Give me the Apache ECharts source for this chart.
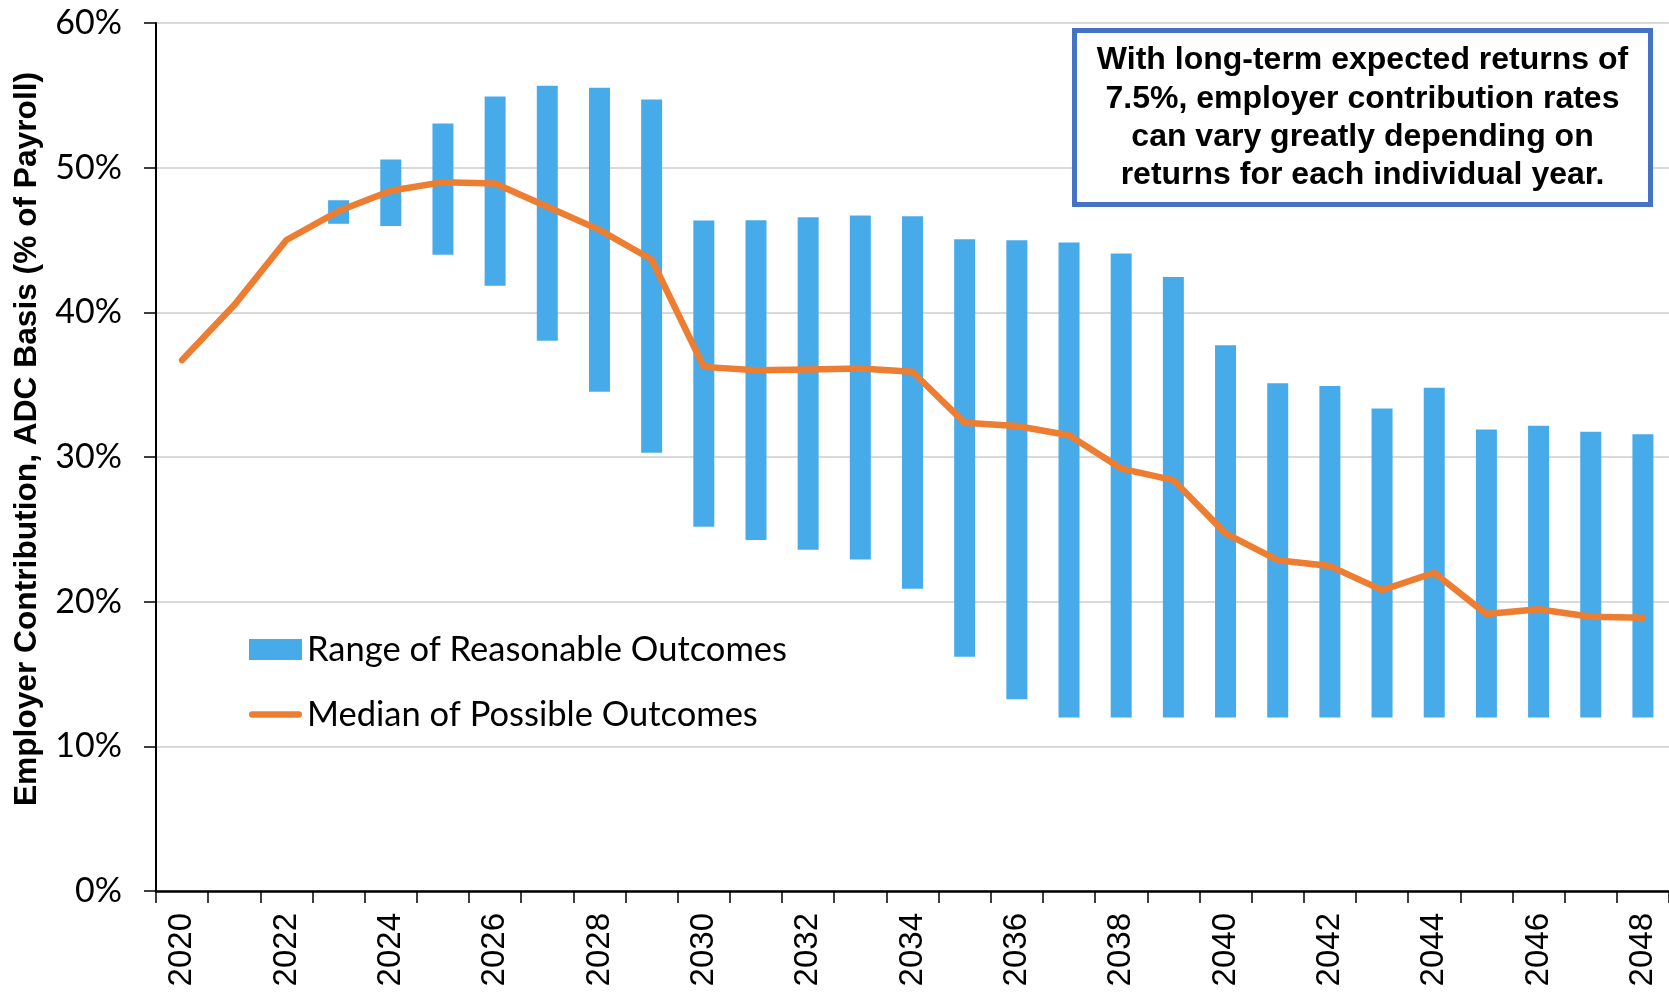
<!DOCTYPE html>
<html>
<head>
<meta charset="utf-8">
<script src="https://cdn.jsdelivr.net/npm/echarts@6/dist/echarts.min.js"></script>
<style>
  html, body { margin: 0; padding: 0; background: #fff; }
  #chart { width: 1669px; height: 992px; }
</style>
</head>
<body>
<div id="chart"></div>
<script>
// Projection years
const years = ['2020','2021','2022','2023','2024','2025','2026','2027','2028','2029',
  '2030','2031','2032','2033','2034','2035','2036','2037','2038','2039',
  '2040','2041','2042','2043','2044','2045','2046','2047','2048'];

// Upper and lower bounds of the range of reasonable outcomes (% of payroll)
const rangeHigh = [null, null, null, 47.75, 50.56, 53.05, 54.92, 55.66, 55.52, 54.71,
  46.35, 46.37, 46.58, 46.70, 46.65, 45.06, 44.99, 44.83, 44.07, 42.45,
  37.73, 35.09, 34.90, 33.36, 34.78, 31.90, 32.16, 31.74, 31.58];
const rangeLow = [null, null, null, 46.12, 45.96, 43.98, 41.83, 38.03, 34.51, 30.29,
  25.18, 24.26, 23.59, 22.92, 20.89, 16.19, 13.25, 12.0, 12.0, 12.0,
  12.0, 12.0, 12.0, 12.0, 12.0, 12.0, 12.0, 12.0, 12.0];

// Median of possible outcomes (% of payroll)
const median = [36.7, 40.5, 45.0, 47.0, 48.4, 49.0, 48.9, 47.3, 45.7, 43.65,
  36.23, 36.0, 36.05, 36.12, 35.89, 32.36, 32.14, 31.5, 29.2, 28.4,
  24.72, 22.87, 22.46, 20.8, 22.0, 19.14, 19.47, 18.96, 18.89];

const yTicks = [0, 10, 20, 30, 40, 50, 60];

const noteLines = [
  'With long-term expected returns of',
  '7.5%, employer contribution rates',
  'can vary greatly depending on',
  'returns for each individual year.'
];

// Floating bars: transparent base up to the low bound, visible span up to the high bound
const rangeSpan = rangeHigh.map((h, i) => (h == null || rangeLow[i] == null) ? null : +(h - rangeLow[i]).toFixed(2));

// Legend key for the median: a thick rounded stroke centred in the key box
const lineKey = 'path://M0,0 Z M58,21 Z M3.5,7 L54.5,7 A3.5,3.5 0 0 1 54.5,14 L3.5,14 A3.5,3.5 0 0 1 3.5,7 Z';

const chart = echarts.init(document.getElementById('chart'), null, { renderer: 'canvas' });

const option = {
  backgroundColor: '#ffffff',
  animation: false,
  grid: { left: 156, top: 23, right: 0, bottom: 101, containLabel: false, outerBoundsMode: 'none' },
  legend: {
    orient: 'vertical',
    left: 244,
    top: 627,
    itemWidth: 53,
    itemHeight: 21,
    itemGap: 30,
    textStyle: { fontFamily: 'Lato', fontSize: 34.5, color: '#000' },
    data: [
      { name: 'Range of Reasonable Outcomes', icon: 'rect' },
      { name: 'Median of Possible Outcomes', icon: lineKey }
    ]
  },
  xAxis: {
    type: 'category',
    data: years,
    boundaryGap: true,
    axisLine: { lineStyle: { color: '#000', width: 2.5 } },
    axisTick: { show: true, inside: false, length: 12, interval: 0, alignWithLabel: false, lineStyle: { color: '#000', width: 1.5 } },
    axisLabel: {
      interval: 1,
      rotate: 90,
      margin: 22,
      fontFamily: 'Liberation Sans',
      fontSize: 33,
      color: '#000'
    }
  },
  yAxis: {
    type: 'value',
    min: yTicks[0],
    max: yTicks[yTicks.length - 1],
    interval: 10,
    name: 'Employer Contribution, ADC Basis (% of Payroll)',
    nameLocation: 'middle',
    nameGap: 113,
    nameTextStyle: {
      fontFamily: 'Liberation Sans',
      fontWeight: 'bold',
      fontSize: 31.7,
      color: '#000',
      padding: [0, 0, 0, 36]
    },
    axisLine: { show: true, lineStyle: { color: '#000', width: 2 } },
    axisTick: { show: true, inside: false, length: 12, lineStyle: { color: '#000', width: 1.5 } },
    axisLabel: {
      formatter: '{value}%',
      margin: 34,
      fontFamily: 'Lato',
      fontSize: 34,
      color: '#000'
    },
    splitLine: { show: true, lineStyle: { color: '#d9d9d9', width: 2 } }
  },
  series: [
    {
      name: 'base',
      type: 'bar',
      stack: 'range',
      barWidth: 21,
      data: rangeLow.map((v, i) => rangeSpan[i] == null ? null : v),
      itemStyle: { color: 'rgba(0,0,0,0)' },
      silent: true
    },
    {
      name: 'Range of Reasonable Outcomes',
      type: 'bar',
      stack: 'range',
      barWidth: 21,
      data: rangeSpan,
      itemStyle: { color: '#48ABE9' }
    },
    {
      name: 'Median of Possible Outcomes',
      type: 'line',
      data: median,
      symbol: 'none',
      showSymbol: false,
      z: 5,
      itemStyle: { color: '#ED7D31' },
      lineStyle: { color: '#ED7D31', width: 6.5, cap: 'round', join: 'round' }
    }
  ],
  graphic: [
    {
      type: 'rect',
      z: 100,
      shape: { x: 1074.5, y: 30.5, width: 576, height: 174 },
      style: { fill: '#ffffff', stroke: '#4472C4', lineWidth: 5 }
    },
    {
      type: 'text',
      z: 101,
      x: 1362.5,
      y: 118,
      style: {
        text: noteLines.join('\n'),
        fontFamily: 'Liberation Sans',
        fontWeight: 'bold',
        fontSize: 32,
        lineHeight: 38.3,
        align: 'center',
        verticalAlign: 'middle',
        fill: '#000'
      }
    }
  ]
};

chart.setOption(option);
</script>
</body>
</html>
